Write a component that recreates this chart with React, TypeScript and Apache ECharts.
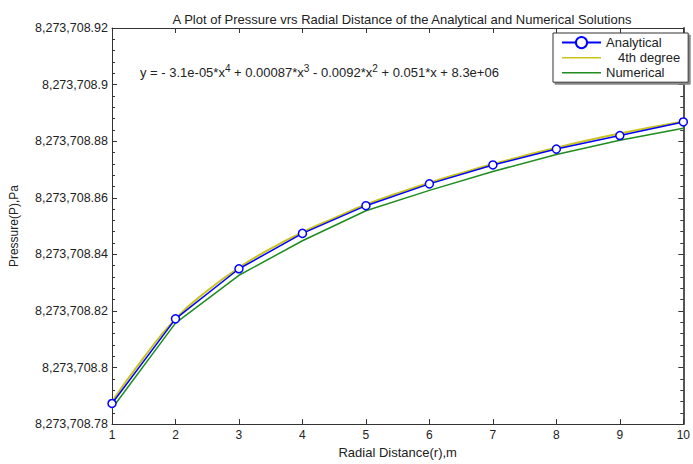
import React, { useEffect, useRef } from "react";
import * as echarts from "echarts";

const BASE = 8273708;
const radius = [1, 2, 3, 4, 5, 6, 7, 8, 9, 10];
const analytical = [
  8273708.7873, 8273708.8172, 8273708.8349, 8273708.8474, 8273708.8572,
  8273708.8649, 8273708.8716, 8273708.8772, 8273708.882, 8273708.8868,
];
const numerical = [
  8273708.7855, 8273708.8157, 8273708.8326, 8273708.8448, 8273708.8554,
  8273708.8626, 8273708.8693, 8273708.8753, 8273708.8803, 8273708.8846,
];
const fitX = [1, 1.5, 2, 2.5, 3, 3.5, 4, 4.5, 5, 5.5, 6, 6.5, 7, 7.5, 8, 8.5, 9, 9.5, 10];
const fitY = [
  8273708.788, 8273708.8035, 8273708.8172, 8273708.8271, 8273708.8353,
  8273708.842, 8273708.8478, 8273708.8528, 8273708.8576, 8273708.8616,
  8273708.8653, 8273708.8687, 8273708.8719, 8273708.8749, 8273708.8777,
  8273708.8803, 8273708.8827, 8273708.8849, 8273708.887,
];
const yTicks = { min: 8273708.78, max: 8273708.92, step: 0.02 };

const off = (v: number) => Math.round((v - BASE) * 1e6) / 1e6;
const fmtY = (v: number) => {
  const frac = String(Math.round(v * 100) / 100).slice(1);
  return "8,273,708" + frac;
};

const FONT = "Liberation Sans, Arial, sans-serif";
const AX = "#333";
const LINE_ICON = "path://M0,0 L40,0 L40,1.6 L0,1.6 Z";

export default function App() {
  const ref = useRef<HTMLDivElement>(null);
  useEffect(() => {
    const chart = echarts.init(ref.current!, null, { renderer: "svg" });
    const yMin = off(yTicks.min);
    const yMax = off(yTicks.max);
    chart.setOption({
      animation: false,
      backgroundColor: "#fff",
      textStyle: { fontFamily: FONT },
      title: {
        text: "A Plot of Pressure vrs Radial Distance of the Analytical and Numerical Solutions",
        left: 397,
        top: 8,
        textAlign: "center",
        textStyle: { fontSize: 13, fontWeight: "normal", color: "#222", fontFamily: FONT },
      },
      grid: { left: 111, right: 6, top: 28, bottom: 35 },
      legend: {
        left: 553,
        top: 33,
        orient: "vertical",
        padding: [3, 8, 3, 8],
        itemGap: 2,
        itemWidth: 39,
        itemHeight: 14,
        backgroundColor: "#fff",
        borderColor: "#333",
        borderWidth: 1,
        borderRadius: 0,
        shadowColor: "#888",
        shadowBlur: 0,
        shadowOffsetX: 2,
        shadowOffsetY: 2,
        textStyle: {
          fontSize: 13,
          color: "#222",
          fontFamily: FONT,
          width: 78,
          rich: { ind: { width: 12 } },
        },
        data: [
          { name: "Analytical" },
          { name: "4th degree", icon: LINE_ICON },
          { name: "Numerical", icon: LINE_ICON },
        ],
        formatter: (n: string) => (n === "4th degree" ? "{ind|}" + n : n),
      },
      xAxis: [
        {
          type: "value",
          min: 1,
          max: 10,
          interval: 1,
          name: "Radial Distance(r),m",
          nameLocation: "middle",
          nameGap: 17,
          nameTextStyle: { fontSize: 13, color: "#222", fontFamily: FONT },
          axisLine: { lineStyle: { color: AX } },
          axisTick: { inside: true, length: 5, lineStyle: { color: AX } },
          axisLabel: { fontSize: 12, color: "#222", margin: 5, fontFamily: FONT },
          splitLine: { show: false },
        },
        {
          type: "value",
          position: "top",
          min: 1,
          max: 10,
          interval: 1,
          axisLine: { show: true, lineStyle: { color: AX } },
          axisTick: { show: true, inside: true, length: 5, lineStyle: { color: AX } },
          axisLabel: { show: false },
          splitLine: { show: false },
        },
      ],
      yAxis: [
        {
          type: "value",
          min: yMin,
          max: yMax,
          interval: 0.02,
          name: "Pressure(P),Pa",
          nameLocation: "middle",
          nameGap: 92,
          nameTextStyle: { fontSize: 12, color: "#222", fontFamily: FONT },
          axisLine: { show: true, lineStyle: { color: AX } },
          axisTick: { show: true, inside: true, length: 5, lineStyle: { color: AX } },
          minorTick: { show: true, splitNumber: 5, length: 3, lineStyle: { color: AX } },
          axisLabel: { fontSize: 12.5, color: "#222", margin: 4, formatter: fmtY, fontFamily: FONT },
          splitLine: { show: false },
        },
        {
          type: "value",
          position: "right",
          min: yMin,
          max: yMax,
          interval: 0.02,
          axisLine: { show: true, lineStyle: { color: "#555", width: 2 } },
          axisTick: { show: true, inside: true, length: 5, lineStyle: { color: AX } },
          minorTick: { show: true, splitNumber: 5, length: 3, lineStyle: { color: AX } },
          axisLabel: { show: false },
          splitLine: { show: false },
        },
      ],
      graphic: [
        {
          type: "text",
          left: 140,
          top: 63,
          style: {
            text:
              "y = - 3.1e-05*x{sup|4} + 0.00087*x{sup|3} - 0.0092*x{sup|2} + 0.051*x + 8.3e+06",
            fontSize: 13,
            fontFamily: FONT,
            fill: "#222",
            rich: {
              sup: { fontSize: 10, verticalAlign: "top", lineHeight: 19, fontFamily: FONT, fill: "#222" },
            },
          },
        },
      ],
      series: [
        {
          name: "4th degree",
          type: "line",
          smooth: true,
          showSymbol: false,
          symbol: "none",
          data: fitX.map((x, i) => [x, off(fitY[i])]),
          lineStyle: { color: "#c9c41a", width: 2 },
          itemStyle: { color: "#c9c41a" },
          z: 2,
        },
        {
          name: "Numerical",
          type: "line",
          showSymbol: false,
          symbol: "none",
          data: radius.map((x, i) => [x, off(numerical[i])]),
          lineStyle: { color: "#1e8c1e", width: 1.5 },
          itemStyle: { color: "#1e8c1e" },
          z: 2,
        },
        {
          name: "Analytical",
          type: "line",
          symbol: "circle",
          symbolSize: 8,
          data: radius.map((x, i) => [x, off(analytical[i])]),
          lineStyle: { color: "#0000ff", width: 1.5 },
          itemStyle: { color: "#fff", borderColor: "#0000ff", borderWidth: 1.5 },
          z: 3,
        },
      ],
    });
    return () => chart.dispose();
  }, []);
  return (
    <div
      ref={ref}
      style={{ position: "fixed", left: 0, top: 0, width: 693, height: 464 }}
    />
  );
}
